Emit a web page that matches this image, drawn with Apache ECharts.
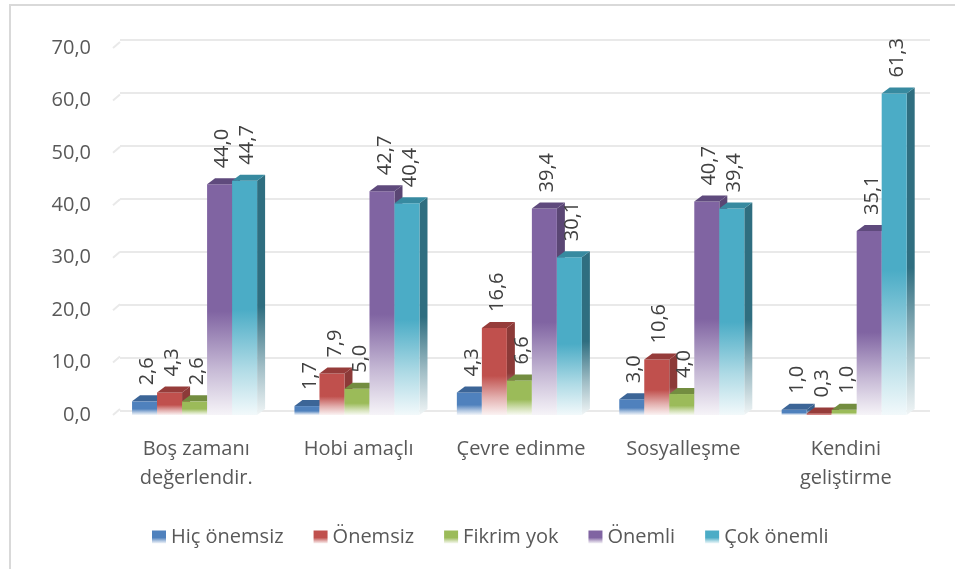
<!DOCTYPE html>
<html>
<head>
<meta charset="utf-8">
<script src="https://cdn.jsdelivr.net/npm/echarts@6/dist/echarts.min.js"></script>
<style>
html, body { margin: 0; padding: 0; background: #fff; }
#chart { width: 955px; height: 569px; }
#frame { position: absolute; left: 9px; top: 4px; width: 1000px; height: 700px;
         border-left: 2px solid #d9d9d9; border-top: 2px solid #d9d9d9; pointer-events: none; }
</style>
</head>
<body>
<div id="chart"></div>
<div id="frame"></div>
<script>
// veriler
var categories = ['Boş zamanı\ndeğerlendir.', 'Hobi amaçlı', 'Çevre edinme', 'Sosyalleşme', 'Kendini\ngeliştirme'];
var seriesNames = ['Hiç önemsiz', 'Önemsiz', 'Fikrim yok', 'Önemli', 'Çok önemli'];
var hicOnemsiz = [2.6, 1.7, 4.3, 3.0, 1.0];
var onemsiz = [4.3, 7.9, 16.6, 10.6, 0.3];
var fikrimYok = [2.6, 5.0, 6.6, 4.0, 1.0];
var onemli = [44.0, 42.7, 39.4, 40.7, 35.1];
var cokOnemli = [44.7, 40.4, 30.1, 39.4, 61.3];
var yTicks = [0, 10, 20, 30, 40, 50, 60, 70];

var allValues = [hicOnemsiz, onemsiz, fikrimYok, onemli, cokOnemli];

// renkler: on yuz, ust yuz, yan yuz
var palette = [
    { front: '#4f81bd', top: '#3c6597', side: '#385d8a' },
    { front: '#c0504d', top: '#963c3a', side: '#8c3a38' },
    { front: '#9bbb59', top: '#738d40', side: '#6f873f' },
    { front: '#8064a2', top: '#5f4a7d', side: '#5a4674' },
    { front: '#4bacc6', top: '#378aa0', side: '#2f6e80' }
];

var fontName = '"Open Sans", "Noto Sans", sans-serif';

function mix(hex, t) {
    var r = parseInt(hex.substr(1, 2), 16), g = parseInt(hex.substr(3, 2), 16), b = parseInt(hex.substr(5, 2), 16);
    r = Math.round(r + (255 - r) * t); g = Math.round(g + (255 - g) * t); b = Math.round(b + (255 - b) * t);
    return 'rgb(' + r + ',' + g + ',' + b + ')';
}

function fade(col) {
    return new echarts.graphic.LinearGradient(0, 0, 0, 1, [
        { offset: 0, color: col },
        { offset: 0.55, color: col },
        { offset: 0.8, color: mix(col, 0.55) },
        { offset: 1, color: mix(col, 0.93) }
    ]);
}

function fmt(v) {
    return v.toFixed(1).replace('.', ',');
}

// 3B sutun geometrisi
function geom(idx, api) {
    var cat = api.value(0), val = api.value(1);
    var base = api.coord([cat, 0]);
    var top = api.coord([cat, val]);
    var band = api.size([1, 0])[0];
    var w = band * 0.154;
    return { x0: base[0] - band * 0.395 + idx * w, w: w, y0: base[1], yt: top[1], val: val, dx: 8, dy: 6 };
}

function barRenderer(idx) {
    var pal = palette[idx];
    return function (params, api) {
        var g = geom(idx, api);
        var x0 = g.x0, w = g.w, y0 = g.y0, yt = g.yt, dx = g.dx, dy = g.dy;
        return {
            type: 'group',
            children: [
                {
                    type: 'polygon',
                    shape: { points: [[x0 + w, yt], [x0 + w + dx, yt - dy], [x0 + w + dx, y0 - dy], [x0 + w, y0]] },
                    style: { fill: fade(pal.side) }
                },
                {
                    type: 'rect',
                    shape: { x: x0, y: yt, width: w, height: Math.max(y0 - yt, 0.5) },
                    style: { fill: fade(pal.front) }
                },
                {
                    type: 'polygon',
                    shape: { points: [[x0, yt], [x0 + dx, yt - dy], [x0 + w + dx, yt - dy], [x0 + w, yt]] },
                    style: { fill: pal.top }
                }
            ]
        };
    };
}

function labelRenderer(idx) {
    return function (params, api) {
        var g = geom(idx, api);
        return {
            type: 'text',
            x: g.x0 + g.w / 2 + 3,
            y: g.yt - 16,
            rotation: Math.PI / 2,
            style: {
                text: fmt(g.val),
                fill: '#404040',
                font: '20px ' + fontName,
                align: 'left',
                verticalAlign: 'middle'
            }
        };
    };
}

var chart = echarts.init(document.getElementById('chart'));

var series = [];
// zemin cizgilerinin sol egik parcalari
series.push({
    type: 'custom',
    xAxisIndex: 0,
    yAxisIndex: 0,
    silent: true,
    data: yTicks.map(function (t) { return [0, t]; }),
    renderItem: function (params, api) {
        var p = api.coord([0, api.value(1)]);
        var x = params.coordSys.x;
        return {
            type: 'line',
            shape: { x1: x - 2, y1: p[1], x2: x + 5, y2: p[1] - 6 },
            style: { stroke: '#e9e9e9', lineWidth: 2 }
        };
    },
    z: 1
});

for (var i = 0; i < seriesNames.length; i++) {
    var pts = allValues[i].map(function (v, k) { return [k, v]; });
    series.push({
        name: seriesNames[i],
        type: 'custom',
        xAxisIndex: 0,
        yAxisIndex: 0,
        itemStyle: { color: fade(palette[i].front) },
        data: pts,
        renderItem: barRenderer(i),
        z: 2 + i
    });
    series.push({
        name: seriesNames[i],
        type: 'custom',
        xAxisIndex: 0,
        yAxisIndex: 0,
        silent: true,
        itemStyle: { color: fade(palette[i].front) },
        data: pts,
        renderItem: labelRenderer(i),
        z: 20
    });
}

var option = {
    animation: false,
    legend: {
        data: seriesNames,
        left: 147,
        top: 522,
        icon: 'rect',
        itemWidth: 14,
        itemHeight: 13,
        itemGap: 30,
        textStyle: { fontSize: 20, color: '#595959', fontFamily: fontName }
    },
    grid: [
        { left: 115, right: 28, top: 48, bottom: 154 },
        { left: 120, right: 25, top: 40, bottom: 158 }
    ],
    xAxis: [
        {
            type: 'category',
            gridIndex: 0,
            data: categories,
            axisLine: { show: false },
            axisTick: { show: false },
            axisLabel: { interval: 0, fontSize: 20, lineHeight: 29, margin: 20, color: '#595959', fontFamily: fontName }
        },
        {
            type: 'category',
            gridIndex: 1,
            data: categories,
            show: false
        }
    ],
    yAxis: [
        {
            type: 'value',
            gridIndex: 0,
            min: 0,
            max: 70,
            interval: 10,
            splitLine: { show: false },
            axisLine: { show: false },
            axisTick: { show: false },
            axisLabel: {
                margin: 24,
                fontSize: 20,
                color: '#595959',
                fontFamily: fontName,
                formatter: function (v) { return fmt(v); }
            }
        },
        {
            type: 'value',
            gridIndex: 1,
            min: 0,
            max: 70,
            interval: 10,
            axisLine: { show: false },
            axisTick: { show: false },
            axisLabel: { show: false },
            splitLine: { lineStyle: { color: '#e9e9e9', width: 2 } }
        }
    ],
    series: series
};

chart.setOption(option);
</script>
</body>
</html>
